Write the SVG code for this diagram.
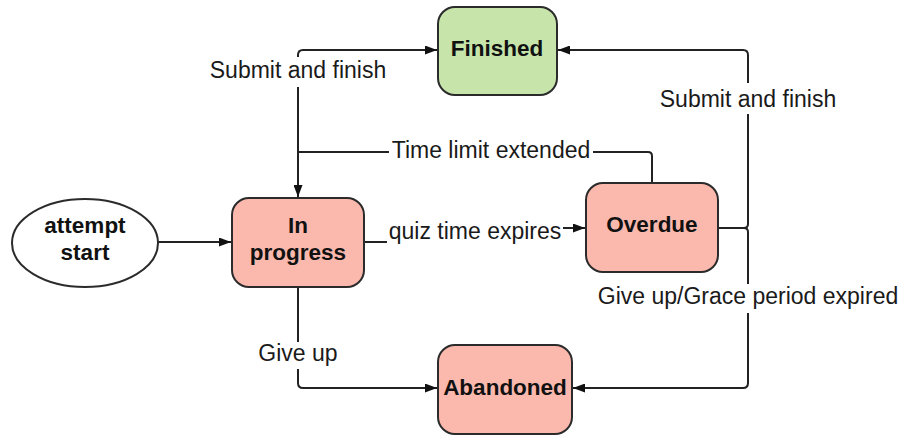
<svg xmlns="http://www.w3.org/2000/svg" width="901" height="436" viewBox="0 0 901 436">
  <style>
    .node { stroke: #2b2b2b; stroke-width: 2; }
    .active { fill: #fbb9ae; }
    .done { fill: #c7e5ab; }
    .start { fill: #ffffff; }
    .title { font-family: "Liberation Sans", Arial, sans-serif; font-size: 22.5px; font-weight: bold; fill: #111; text-anchor: middle; }
    .edge { fill: none; stroke: #222; stroke-width: 2; }
    .label { font-family: "Liberation Sans", Arial, sans-serif; font-size: 23px; fill: #1a1a1a; text-anchor: middle; }
    .bg { fill: #ffffff; }
  </style>
  <defs>
    <marker id="arrow" viewBox="0 0 12 9" refX="12" refY="4.5" markerWidth="12" markerHeight="9" markerUnits="userSpaceOnUse" orient="auto">
      <path d="M0,0 L12,4.5 L0,9 Z" fill="#111"/>
    </marker>
  </defs>
  <rect width="901" height="436" fill="#ffffff"/>

  <!-- transitions -->
  <g id="connectors">
    <path class="edge" d="M298,198 V55 Q298,50 303,50 H437" marker-end="url(#arrow)"/>
    <path class="edge" d="M652,183 V156 Q652,152 648,152 H298 V197" marker-end="url(#arrow)"/>
    <path class="edge" d="M158,242 H231" marker-end="url(#arrow)"/>
    <path class="edge" d="M364,242 H475 V228 H585" marker-end="url(#arrow)"/>
    <path class="edge" d="M718,228 H744 Q748,228 748,224 V55 Q748,50 743,50 H558" marker-end="url(#arrow)"/>
    <path class="edge" d="M718,228 H744 Q748,228 748,232 V383 Q748,388 743,388 H573" marker-end="url(#arrow)"/>
    <path class="edge" d="M298,287 V383 Q298,388 303,388 H437" marker-end="url(#arrow)"/>

    <!-- transition labels -->
    <rect class="bg" x="208" y="57" width="181" height="30"/>
    <text class="label" x="298" y="78">Submit and finish</text>
    <rect class="bg" x="657" y="83" width="182" height="31"/>
    <text class="label" x="748" y="107">Submit and finish</text>
    <rect class="bg" x="389" y="138" width="204" height="26"/>
    <text class="label" x="491" y="158">Time limit extended</text>
    <rect class="bg" x="387" y="218" width="176" height="30"/>
    <text class="label" x="475" y="239">quiz time expires</text>
    <rect class="bg" x="596" y="284" width="304" height="29"/>
    <text class="label" x="748" y="304">Give up/Grace period expired</text>
    <rect class="bg" x="253" y="342" width="90" height="27"/>
    <text class="label" x="298" y="361">Give up</text>
  </g>

  <g id="attempt-start">
    <ellipse class="node start" cx="85" cy="243" rx="73" ry="44"/>
    <text class="title" x="85" y="233">attempt</text>
    <text class="title" x="85" y="260">start</text>
  </g>

  <g id="in-progress">
    <rect class="node active" x="232" y="198" width="132" height="89" rx="17"/>
    <text class="title" x="298" y="233">In</text>
    <text class="title" x="298" y="260">progress</text>
  </g>

  <g id="finished">
    <rect class="node done" x="438" y="7" width="119" height="88" rx="17"/>
    <text class="title" x="497" y="56">Finished</text>
  </g>

  <g id="overdue">
    <rect class="node active" x="586" y="183" width="132" height="89" rx="17"/>
    <text class="title" x="652" y="232">Overdue</text>
  </g>

  <g id="abandoned">
    <rect class="node active" x="438" y="345" width="134" height="89" rx="17"/>
    <text class="title" x="505" y="395">Abandoned</text>
  </g>
</svg>
